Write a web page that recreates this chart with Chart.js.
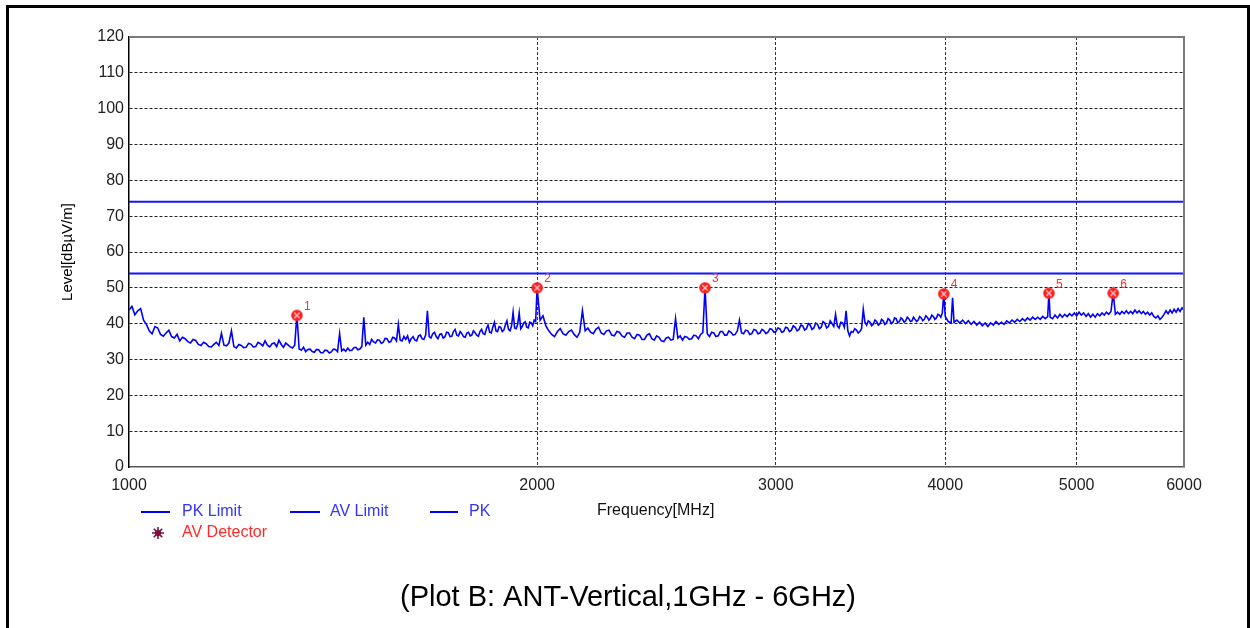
<!DOCTYPE html>
<html>
<head>
<meta charset="utf-8">
<title>Plot B: ANT-Vertical, 1GHz - 6GHz</title>
<script src="https://cdn.jsdelivr.net/npm/chart.js@4.4.0/dist/chart.umd.min.js"></script>
<style>
  html, body { margin: 0; padding: 0; background: #fff; }
  canvas { display: block; }
</style>
</head>
<body>
<canvas id="emiChart" width="1250" height="628"></canvas>
<script>
// ---- data ----
const xTicks = [1000, 2000, 3000, 4000, 5000, 6000];

const pkLimit = 74;
const avLimit = 54;

// sweep frequencies (MHz)
const freqs = [
  1000, 1005, 1010, 1015, 1020, 1025, 1030, 1035, 1040, 1045,
  1050, 1055, 1060, 1065, 1070, 1075, 1080, 1085, 1090, 1095,
  1100, 1105, 1110, 1115, 1120, 1125, 1130, 1135, 1140, 1145,
  1150, 1155, 1160, 1165, 1170, 1175, 1180, 1185, 1190, 1195,
  1200, 1205, 1210, 1215, 1220, 1225, 1230, 1235, 1240, 1245,
  1250, 1255, 1260, 1265, 1270, 1275, 1280, 1285, 1290, 1295,
  1300, 1305, 1310, 1315, 1320, 1325, 1330, 1335, 1340, 1345,
  1350, 1355, 1360, 1365, 1370, 1375, 1380, 1385, 1390, 1395,
  1400, 1405, 1410, 1415, 1420, 1425, 1430, 1435, 1440, 1445,
  1450, 1455, 1460, 1465, 1470, 1475, 1480, 1485, 1490, 1495,
  1500, 1505, 1510, 1515, 1520, 1525, 1530, 1535, 1540, 1545,
  1550, 1555, 1560, 1565, 1570, 1575, 1580, 1585, 1590, 1595,
  1600, 1605, 1610, 1615, 1620, 1625, 1630, 1635, 1640, 1645,
  1650, 1655, 1660, 1665, 1670, 1675, 1680, 1685, 1690, 1695,
  1700, 1705, 1710, 1715, 1720, 1725, 1730, 1735, 1740, 1745,
  1750, 1755, 1760, 1765, 1770, 1775, 1780, 1785, 1790, 1795,
  1800, 1805, 1810, 1815, 1820, 1825, 1830, 1835, 1840, 1845,
  1850, 1855, 1860, 1865, 1870, 1875, 1880, 1885, 1890, 1895,
  1900, 1905, 1910, 1915, 1920, 1925, 1930, 1935, 1940, 1945,
  1950, 1955, 1960, 1965, 1970, 1975, 1980, 1985, 1990, 1995,
  2000, 2010, 2020, 2030, 2040, 2050, 2060, 2070, 2080, 2090,
  2100, 2110, 2120, 2130, 2140, 2150, 2160, 2170, 2180, 2190,
  2200, 2210, 2220, 2230, 2240, 2250, 2260, 2270, 2280, 2290,
  2300, 2310, 2320, 2330, 2340, 2350, 2360, 2370, 2380, 2390,
  2400, 2410, 2420, 2430, 2440, 2450, 2460, 2470, 2480, 2490,
  2500, 2510, 2520, 2530, 2540, 2550, 2560, 2570, 2580, 2590,
  2600, 2610, 2620, 2630, 2640, 2650, 2660, 2670, 2680, 2690,
  2700, 2710, 2720, 2730, 2740, 2750, 2760, 2770, 2780, 2790,
  2800, 2810, 2820, 2830, 2840, 2850, 2860, 2870, 2880, 2890,
  2900, 2910, 2920, 2930, 2940, 2950, 2960, 2970, 2980, 2990,
  3000, 3010, 3020, 3030, 3040, 3050, 3060, 3070, 3080, 3090,
  3100, 3110, 3120, 3130, 3140, 3150, 3160, 3170, 3180, 3190,
  3200, 3210, 3220, 3230, 3240, 3250, 3260, 3270, 3280, 3290,
  3300, 3310, 3320, 3330, 3340, 3350, 3360, 3370, 3380, 3390,
  3400, 3410, 3420, 3430, 3440, 3450, 3460, 3470, 3480, 3490,
  3500, 3510, 3520, 3530, 3540, 3550, 3560, 3570, 3580, 3590,
  3600, 3610, 3620, 3630, 3640, 3650, 3660, 3670, 3680, 3690,
  3700, 3710, 3720, 3730, 3740, 3750, 3760, 3770, 3780, 3790,
  3800, 3810, 3820, 3830, 3840, 3850, 3860, 3870, 3880, 3890,
  3900, 3910, 3920, 3930, 3940, 3950, 3960, 3970, 3980, 3990,
  4000, 4020, 4040, 4050, 4060, 4080,
  4100, 4120, 4140, 4160, 4180, 4200, 4220, 4240, 4260, 4280,
  4300, 4320, 4340, 4360, 4380, 4400, 4420, 4440, 4460, 4480,
  4500, 4520, 4540, 4560, 4580, 4600, 4620, 4640, 4660, 4680,
  4700, 4720, 4740, 4760, 4770, 4780,
  4800, 4820, 4840, 4860, 4880, 4900, 4920, 4940, 4960, 4980,
  5000, 5020, 5040, 5060, 5080, 5100, 5120, 5140, 5160, 5180,
  5200, 5220, 5240, 5260, 5280, 5300, 5320, 5340, 5360, 5380,
  5400, 5420, 5440, 5460, 5480, 5500, 5520, 5540, 5560, 5580,
  5600, 5620, 5640, 5660, 5680, 5700, 5720, 5740, 5760, 5780,
  5800, 5820, 5840, 5860, 5880, 5900, 5920, 5940, 5960, 5980,
  6000
];

// PK trace level (dBuV/m), one per frequency above
const pkLevels = [
  43.8, 44.8, 42.5, 43.6, 44.2, 41.0, 39.8, 38.0, 37.2, 39.2,
  38.8, 37.0, 36.5, 37.4, 38.2, 36.4, 36.0, 37.0, 35.2, 36.2,
  35.8, 35.0, 34.6, 35.6, 35.3, 34.2, 33.9, 34.8, 34.4, 33.6,
  33.5, 34.2, 34.8, 33.9, 37.3, 34.0, 33.8, 34.6, 38.0, 33.6,
  33.2, 34.2, 33.9, 33.3, 33.4, 34.5, 34.3, 33.5, 33.6, 34.8,
  34.4, 33.8, 35.2, 34.0, 33.5, 34.4, 34.6, 33.6, 35.4, 34.2,
  33.4, 34.6, 34.1, 33.5, 33.2, 34.0, 42.4, 33.0, 32.6, 33.4,
  32.2, 32.8, 32.9, 32.2, 32.0, 32.8, 32.7, 31.9, 31.9, 32.6,
  32.5, 31.8, 32.1, 32.9, 32.8, 32.2, 37.2, 32.4, 32.9, 32.3,
  33.2, 32.5, 32.6, 33.3, 33.4, 32.7, 32.9, 33.6, 41.8, 34.0,
  34.8, 34.2, 35.6, 34.9, 34.6, 35.5, 35.4, 34.5, 34.8, 35.9,
  35.8, 34.8, 35.0, 36.2, 36.0, 35.2, 39.8, 35.4, 35.2, 36.4,
  35.6, 36.6, 34.8, 35.8, 36.4, 35.4, 35.2, 36.6, 36.8, 35.8,
  35.6, 36.8, 43.6, 36.4, 36.0, 37.2, 37.6, 36.4, 35.8, 37.0,
  37.2, 36.0, 36.3, 37.6, 37.5, 36.4, 36.5, 37.8, 38.4, 36.8,
  36.6, 37.8, 37.2, 36.4, 36.2, 37.4, 37.6, 36.6, 36.8, 38.0,
  37.5, 36.8, 36.5, 37.8, 38.4, 37.2, 37.0, 38.6, 39.6, 37.6,
  37.4, 39.0, 40.4, 38.0, 37.8, 39.2, 39.0, 37.8, 38.2, 39.6,
  40.8, 38.4, 38.0, 39.4, 43.2, 38.8, 38.6, 39.8, 43.0, 38.6,
  39.2, 40.2, 40.5, 39.0, 38.8, 40.4, 40.2, 39.4, 41.0, 40.6,
  50.0, 41.0, 42.2, 39.4, 38.0, 37.0, 36.4, 37.8, 38.6, 37.2,
  36.8, 37.8, 38.2, 37.0, 36.2, 37.6, 43.6, 38.0, 38.8, 37.6,
  37.2, 38.4, 39.0, 37.4, 37.0, 38.0, 38.2, 36.8, 36.6, 37.8,
  37.6, 36.6, 36.2, 37.4, 37.4, 36.2, 35.8, 37.0, 36.8, 35.6,
  35.6, 36.8, 37.2, 35.8, 35.4, 36.6, 36.2, 35.2, 35.0, 36.0,
  36.2, 35.4, 35.6, 41.4, 36.0, 36.6, 35.4, 36.4, 36.2, 35.6,
  35.8, 36.8, 36.6, 35.8, 37.0, 37.5, 50.0, 37.2, 36.4, 37.6,
  37.4, 36.4, 36.6, 37.8, 37.8, 36.8, 36.8, 38.0, 37.6, 36.8,
  37.0, 38.0, 41.0, 37.4, 37.2, 38.2, 38.0, 37.0, 37.2, 38.4,
  38.2, 37.2, 37.4, 38.4, 38.0, 37.2, 37.6, 38.6, 38.4, 37.6,
  37.8, 38.8, 38.6, 37.6, 37.8, 39.0, 38.8, 37.8, 38.2, 39.4,
  39.0, 38.0, 38.4, 39.6, 39.4, 38.2, 38.6, 40.0, 39.6, 38.4,
  38.8, 40.2, 39.8, 38.6, 39.0, 40.6, 40.2, 38.8, 39.2, 40.8,
  40.0, 39.2, 42.6, 39.4, 38.8, 40.4, 40.2, 39.0, 43.6, 38.0,
  36.6, 37.8, 37.6, 38.6, 38.2, 37.4, 37.8, 38.6, 44.0, 40.4,
  39.6, 40.8, 40.4, 39.4, 39.8, 41.0, 40.6, 39.6, 40.0, 41.2,
  40.8, 39.8, 40.2, 41.4, 41.0, 40.0, 40.4, 41.6, 41.4, 40.2,
  40.6, 41.6, 41.2, 40.4, 40.8, 41.8, 41.4, 40.6, 40.8, 41.8,
  41.2, 40.6, 41.0, 42.0, 41.6, 40.8, 41.2, 42.2, 41.8, 41.0,
  41.4, 42.4, 42.0, 41.2, 41.6, 42.6, 42.4, 41.8, 43.0, 48.3,
  42.0, 40.6, 40.2, 47.2, 40.4, 41.0,
  40.2, 41.0, 40.0, 40.8, 39.8, 40.6, 39.6, 40.4, 39.4, 40.2,
  39.2, 40.2, 39.6, 40.6, 39.8, 40.4, 39.8, 40.8, 40.2, 41.0,
  40.4, 41.2, 40.6, 41.4, 40.8, 41.6, 41.0, 41.8, 41.2, 41.8,
  41.2, 42.0, 41.4, 42.0, 48.4, 41.8,
  41.4, 42.4, 41.6, 42.6, 41.8, 42.6, 42.0, 42.8, 42.2, 43.0,
  42.2, 43.2, 42.4, 43.0, 42.0, 42.8, 41.8, 42.6, 41.8, 42.8,
  42.2, 43.0, 42.4, 43.2, 42.6, 43.4, 48.6, 42.6, 43.2, 42.6,
  43.4, 42.8, 43.6, 42.8, 43.4, 42.8, 43.8, 43.0, 43.6, 42.8,
  43.4, 42.6, 43.2, 42.4, 43.0, 42.0, 41.6, 42.2, 41.2, 41.8,
  42.6, 43.6, 42.8, 43.8, 43.0, 44.0, 43.2, 44.2, 43.4, 44.4,
  43.8
];

const markerFreqs  = [1330, 2000, 2660, 3990, 4770, 5320];
const markerLevels = [42.3, 50.0, 50.0, 48.3, 48.5, 48.5];
const markerLabels = ['1', '2', '3', '4', '5', '6'];

// ---- styling ----
const FONT = "'Liberation Sans', Arial, sans-serif";
const TRACE_BLUE = '#0000ff';

// red "x in circle" marker used for the AV detector points
function makeMarker() {
  const c = document.createElement('canvas');
  c.width = 14; c.height = 14;
  const g = c.getContext('2d');
  g.fillStyle = '#ff1f1f';
  g.beginPath(); g.arc(7, 7, 5.8, 0, Math.PI * 2); g.fill();
  g.strokeStyle = '#ffc8c8';
  g.lineWidth = 1.3;
  g.beginPath();
  g.moveTo(4.3, 4.3); g.lineTo(9.7, 9.7);
  g.moveTo(9.7, 4.3); g.lineTo(4.3, 9.7);
  g.stroke();
  return c;
}

const pkPoints = freqs.map((f, i) => ({ x: f, y: pkLevels[i] }));
const markerPoints = markerFreqs.map((f, i) => ({ x: f, y: markerLevels[i] }));

const framePlugin = {
  id: 'frame',
  beforeDraw(chart) {
    const ctx = chart.ctx;
    ctx.save();
    ctx.fillStyle = '#fff';
    ctx.fillRect(0, 0, chart.width, chart.height);
    ctx.strokeStyle = '#000';
    ctx.lineWidth = 3;
    ctx.beginPath();
    ctx.moveTo(7.5, 640);
    ctx.lineTo(7.5, 6.5);
    ctx.lineTo(1248.5, 6.5);
    ctx.lineTo(1248.5, 640);
    ctx.stroke();
    ctx.restore();
  },
  afterDraw(chart) {
    const ctx = chart.ctx;
    const a = chart.chartArea;
    ctx.save();

    // top and right edges of the plot box
    ctx.strokeStyle = '#7a7a7a';
    ctx.lineWidth = 2;
    ctx.beginPath();
    ctx.moveTo(a.left, a.top);
    ctx.lineTo(a.right, a.top);
    ctx.lineTo(a.right, a.bottom);
    ctx.stroke();

    // y axis title
    ctx.fillStyle = '#000';
    ctx.font = '15px ' + FONT;
    ctx.textAlign = 'center';
    ctx.textBaseline = 'middle';
    ctx.translate(68, 252);
    ctx.rotate(-Math.PI / 2);
    ctx.fillText('Level[dB\u00b5V/m]', 0, 0);
    ctx.setTransform(1, 0, 0, 1, 0, 0);

    // legend row 1
    ctx.font = '16px ' + FONT;
    ctx.textAlign = 'left';
    const legend = [
      { x0: 141, x1: 170, tx: 182, text: 'PK Limit' },
      { x0: 290, x1: 320, tx: 330, text: 'AV Limit' },
      { x0: 430, x1: 458, tx: 469, text: 'PK' }
    ];
    legend.forEach(it => {
      ctx.strokeStyle = TRACE_BLUE;
      ctx.lineWidth = 2;
      ctx.beginPath();
      ctx.moveTo(it.x0, 512);
      ctx.lineTo(it.x1, 512);
      ctx.stroke();
      ctx.fillStyle = '#3434ff';
      ctx.fillText(it.text, it.tx, 512);
    });
    ctx.fillStyle = '#111';
    ctx.fillText('Frequency[MHz]', 597, 511);

    // legend row 2: star + AV Detector
    ctx.strokeStyle = '#7a0f3c';
    ctx.lineWidth = 1.6;
    ctx.beginPath();
    for (let k = 0; k < 8; k++) {
      const ang = k * Math.PI / 4;
      ctx.moveTo(158, 533);
      ctx.lineTo(158 + Math.cos(ang) * 6, 533 + Math.sin(ang) * 6);
    }
    ctx.stroke();
    ctx.fillStyle = '#7a0f3c';
    ctx.beginPath(); ctx.arc(158, 533, 3, 0, Math.PI * 2); ctx.fill();
    ctx.fillStyle = '#ff2a2a';
    ctx.fillText('AV Detector', 182, 533);

    // caption
    ctx.fillStyle = '#000';
    ctx.font = '29px ' + FONT;
    ctx.textAlign = 'center';
    ctx.fillText('(Plot B: ANT-Vertical,1GHz - 6GHz)', 628, 598);
    ctx.restore();
  },
  afterDatasetsDraw(chart) {
    // marker numbers next to each detector point
    const meta = chart.getDatasetMeta(0);
    const ctx = chart.ctx;
    ctx.save();
    ctx.fillStyle = '#ff3030';
    ctx.font = '12px ' + FONT;
    ctx.textAlign = 'left';
    ctx.textBaseline = 'middle';
    meta.data.forEach((el, i) => {
      ctx.fillText(markerLabels[i], el.x + 7, el.y - 9);
    });
    ctx.restore();
  }
};

const edgeX = v => v === xTicks[0] || v === xTicks[xTicks.length - 1];

new Chart(document.getElementById('emiChart').getContext('2d'), {
  type: 'line',
  data: {
    datasets: [
      {
        label: 'AV Detector',
        data: markerPoints,
        showLine: false,
        pointStyle: makeMarker(),
        pointRadius: 7,
        order: 0
      },
      {
        label: 'PK',
        data: pkPoints,
        borderColor: TRACE_BLUE,
        borderWidth: 1.6,
        pointRadius: 0,
        tension: 0,
        order: 1
      },
      {
        label: 'PK Limit',
        data: [{ x: xTicks[0], y: pkLimit }, { x: xTicks[xTicks.length - 1], y: pkLimit }],
        borderColor: '#1414ff',
        borderWidth: 2,
        pointRadius: 0,
        order: 2
      },
      {
        label: 'AV Limit',
        data: [{ x: xTicks[0], y: avLimit }, { x: xTicks[xTicks.length - 1], y: avLimit }],
        borderColor: '#1414ff',
        borderWidth: 2,
        pointRadius: 0,
        order: 2
      }
    ]
  },
  options: {
    responsive: false,
    maintainAspectRatio: false,
    animation: false,
    layout: { padding: { left: 79, top: 37, right: 66, bottom: 129 } },
    plugins: {
      legend: { display: false },
      tooltip: { enabled: false }
    },
    scales: {
      x: {
        type: 'logarithmic',
        min: 1000,
        max: 6000,
        afterBuildTicks: s => { s.ticks = xTicks.map(v => ({ value: v })); },
        afterFit: s => { s.height = 32; },
        ticks: {
          autoSkip: false,
          maxRotation: 0,
          padding: 9,
          color: '#222',
          font: { family: FONT, size: 16 },
          callback: v => String(v)
        },
        grid: {
          drawTicks: false,
          lineWidth: 1,
          color: c => (c.tick && edgeX(c.tick.value)) ? 'rgba(0,0,0,0)' : '#333'
        },
        border: { display: true, color: '#555', width: 1.5, dash: [3, 2] }
      },
      y: {
        min: 0,
        max: 120,
        afterFit: s => { s.width = 50; },
        ticks: {
          stepSize: 10,
          padding: 5,
          color: '#222',
          font: { family: FONT, size: 16 }
        },
        grid: {
          drawTicks: false,
          lineWidth: 1,
          color: c => (c.tick && (c.tick.value === 0 || c.tick.value === 120)) ? 'rgba(0,0,0,0)' : '#222'
        },
        border: { display: true, color: '#000', width: 1.5, dash: [3, 2] }
      }
    }
  },
  plugins: [framePlugin]
});
</script>
</body>
</html>
